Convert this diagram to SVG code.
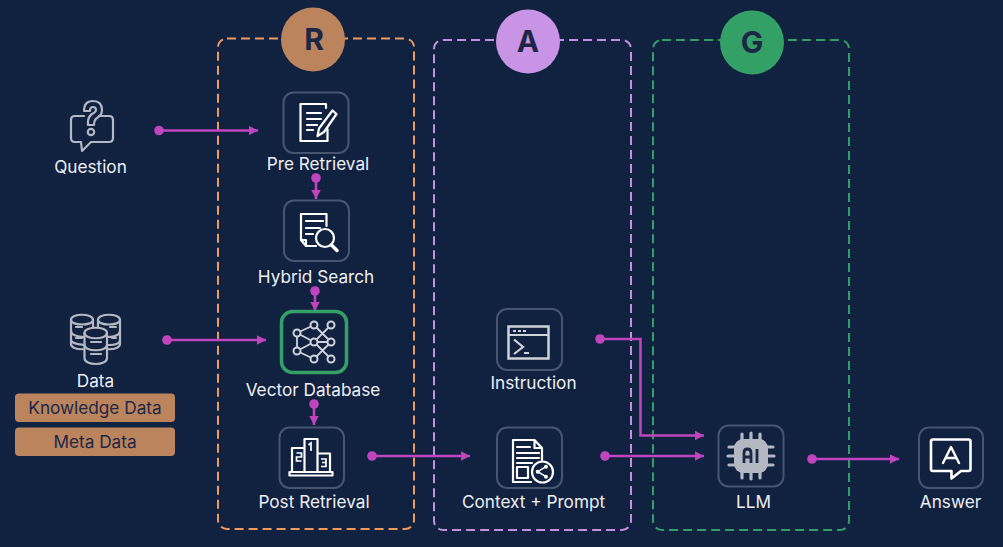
<svg xmlns="http://www.w3.org/2000/svg" width="1003" height="547" viewBox="0 0 1003 547">
<style>
text{font-family:"Inter","Noto Sans","Liberation Sans",sans-serif;font-size:17.200px;fill:#eef0f4;text-anchor:middle}
.box{fill:none;stroke:#465570;stroke-width:2}
.dash{fill:none;stroke-width:2;stroke-dasharray:9 5}
.pill{fill:#bc845c}
.pt{fill:#1c2748}
.letter{font-size:30px;font-weight:700;fill:#1c2748}
.ic{fill:none;stroke:#fff;stroke-width:2.200;stroke-linejoin:round;stroke-linecap:round}
.ig{fill:none;stroke:#b4b8c2;stroke-width:2.200;stroke-linejoin:round;stroke-linecap:round}
.ln{fill:none;stroke:#c044bd;stroke-width:2.600}
.dot{fill:#c044bd}
.bgf{fill:#112140}
</style>
<defs>
<marker id="arr" markerUnits="userSpaceOnUse" markerWidth="10" markerHeight="11" refX="9.500" refY="5.500" orient="auto"><path d="M0 0.500L9.500 5.500L0 10.500Z" fill="#c044bd"/></marker>
</defs>
<rect width="1003" height="547" fill="#112140"/>
<g id="frames">
<rect class="dash" x="218" y="38.500" width="196" height="490.500" rx="9" stroke="#f0995c"/>
<rect class="dash" x="434" y="40" width="197" height="490" rx="9" stroke="#c48fe0"/>
<rect class="dash" x="653" y="40" width="196" height="490" rx="9" stroke="#2fa066"/>
</g>
<g id="connectors">
<path class="ln" marker-end="url(#arr)" d="M159 130.500H258"/>
<path class="ln" marker-end="url(#arr)" d="M316 178V199"/>
<path class="ln" marker-end="url(#arr)" d="M315 291V311"/>
<path class="ln" marker-end="url(#arr)" d="M167 340H266"/>
<path class="ln" marker-end="url(#arr)" d="M314 404V425"/>
<path class="ln" marker-end="url(#arr)" d="M372 456H470"/>
<path class="ln" marker-end="url(#arr)" d="M600 339H640.500V435.500H704"/>
<path class="ln" marker-end="url(#arr)" d="M605 456H704"/>
<path class="ln" marker-end="url(#arr)" d="M812 459H899"/>
<circle class="dot" cx="159" cy="130.500" r="4.800"/>
<circle class="dot" cx="316" cy="178" r="4.800"/>
<circle class="dot" cx="315" cy="291" r="4.800"/>
<circle class="dot" cx="167" cy="340" r="4.800"/>
<circle class="dot" cx="314" cy="404" r="4.800"/>
<circle class="dot" cx="372" cy="456" r="4.800"/>
<circle class="dot" cx="600" cy="339" r="4.800"/>
<circle class="dot" cx="605" cy="456" r="4.800"/>
<circle class="dot" cx="812" cy="459" r="4.800"/>
</g>
<g id="badge-r"><circle cx="313" cy="39.500" r="32" fill="#bc845c"/><text class="letter" x="314" y="50">R</text></g>
<g id="badge-a"><circle cx="528" cy="41.500" r="32" fill="#c993e6"/><text class="letter" x="528" y="52">A</text></g>
<g id="badge-g"><circle cx="752" cy="42.500" r="32" fill="#33a065"/><text class="letter" x="752" y="53">G</text></g>
<g id="question">
<path class="ig" d="M84 116H75Q71 116 71 120V138Q71 142 75 142H81L82 151L91 142H109Q113 142 113 138V120Q113 116 109 116H99"/>
<path class="ig" d="M84 111Q84 101 93 101Q102 101 102 110Q102 115 97 118Q94 120 94 125H88V122Q88 117 92 114Q96 112 96 110Q96 107 93 107Q90 107 90 111Z"/>
<circle class="ig" cx="91" cy="132" r="3.200"/>
<text x="90.500" y="173">Question</text>
</g>
<g id="pre-retrieval">
<rect class="box" x="283.500" y="92.500" width="65" height="60.500" rx="10"/>
<path class="ic" d="M326 108V104H300.500V141H327.500V129"/>
<path class="ic" d="M307 113H321M307 119H321M307 125H317M307 130H313"/>
<path class="ic" d="M332.500 110.500L336.500 114L324 132L317.500 136L319 128.500Z"/>
<text x="318" y="170">Pre Retrieval</text>
</g>
<g id="hybrid-search">
<rect class="box" x="284" y="200.500" width="65" height="60.500" rx="10"/>
<path class="ic" d="M301 240V214H326.500V226M316 246H306L301 240H306V246"/>
<path class="ic" d="M306 221H323M306 228H320M306 234H313"/>
<circle class="ic" cx="325" cy="238" r="9"/>
<path d="M331.500 245L337 250.500" fill="none" stroke="#fff" stroke-width="3.500" stroke-linecap="round"/>
<text x="316" y="283">Hybrid Search</text>
</g>
<g id="data">
<path class="ig" d="M71 320C71 313 93 313 93 320V344C93 351 71 351 71 344Z"/>
<path class="ig" d="M71 320C71 326 93 326 93 320M71 331C71 337 85 337 85 337M71 340C71 344 85 345 85 345M76 327H82M76 338H82"/>
<path class="ig" d="M98 320C98 313 120 313 120 320V344C120 351 98 351 98 344Z"/>
<path class="ig" d="M98 320C98 326 120 326 120 320M108 337C114 337 120 335 120 331M108 345C114 345 120 344 120 340M110 327H116M112 338H116"/>
<path class="ig bgf" d="M84.500 333C84.500 326 107 326 107 333V358C107 366 84.500 366 84.500 358Z"/>
<path class="ig" d="M84.500 333C84.500 340 107 340 107 333M84.500 345C84.500 352 107 352 107 345M91 342H101M91 354H101"/>
<text x="95.500" y="387">Data</text>
</g>
<g id="knowledge-data"><rect class="pill" x="15" y="393.500" width="160" height="28.500" rx="4"/><text class="pt" x="95" y="414">Knowledge Data</text></g>
<g id="meta-data"><rect class="pill" x="15" y="427.500" width="160" height="28.500" rx="4"/><text class="pt" x="95" y="448">Meta Data</text></g>
<g id="vector-database">
<rect x="281.500" y="311.500" width="65" height="61" rx="11" fill="none" stroke="#33a065" stroke-width="3.500"/>
<path fill="none" stroke="#cfd2d8" stroke-width="1.800" d="M297 333L314 325M297 333L314 342M297 351L314 342M297 351L314 359M314 325L331 342M314 342L331 325M314 342L331 359M314 359L331 342M314 342H331M297 333V351"/>
<g class="bgf" stroke="#cfd2d8" stroke-width="2">
<circle cx="297" cy="333" r="3.500"/><circle cx="297" cy="351" r="3.500"/><circle cx="314" cy="325" r="3.500"/><circle cx="314" cy="342" r="3.500"/><circle cx="314" cy="359" r="3.500"/><circle cx="331" cy="325" r="3.500"/><circle cx="331" cy="342" r="3.500"/><circle cx="331" cy="359" r="3.500"/>
</g>
<text x="313" y="396">Vector Database</text>
</g>
<g id="post-retrieval">
<rect class="box" x="279.500" y="427.500" width="64.500" height="60.500" rx="10"/>
<path class="ic" d="M292 472V448H304.500M304.500 472V439H317.500V472M317.500 453.500H330V472"/>
<rect class="ic" x="289.500" y="472" width="43" height="3.500"/>
<path fill="none" stroke="#fff" stroke-width="1.700" d="M296.500 453H301.500V457H296.500V461H301.500M308.500 445L311 443V451M321 459H326V462.500H322M326 462.500V466.500H321"/>
<text x="314" y="508">Post Retrieval</text>
</g>
<g id="instruction">
<rect class="box" x="497" y="309" width="65" height="61" rx="10"/>
<rect x="508.500" y="326.500" width="40" height="32" fill="none" stroke="#cfd2d8" stroke-width="2.500"/>
<path fill="none" stroke="#cfd2d8" stroke-width="2" d="M508.500 335H548.500M513 331H516M518 331H521M523 331H526"/>
<path fill="none" stroke="#cfd2d8" stroke-width="2.200" d="M514 339.500L523 347L514 354M524 353H529"/>
<text x="533.500" y="389">Instruction</text>
</g>
<g id="context-prompt">
<rect class="box" x="497" y="427.500" width="65" height="60.500" rx="10"/>
<path class="ic" d="M513 482V440H534.500L542 448V460M534.500 440V448H542M513 482H531"/>
<path class="ic" d="M517 447H530M517 453H539M517 458H539M517 463H532"/>
<rect class="ic" x="517" y="467" width="11" height="11"/>
<circle class="ic" cx="542.500" cy="472" r="10.500"/>
<path fill="none" stroke="#fff" stroke-width="1.500" d="M546 466.700L537.700 471.700L546 476.700"/>
<g fill="#fff"><circle cx="546" cy="466.700" r="2"/><circle cx="537.700" cy="471.700" r="2"/><circle cx="546" cy="476.700" r="2"/></g>
<text x="533.500" y="508">Context + Prompt</text>
</g>
<g id="llm">
<rect class="box" x="718.500" y="425.500" width="65" height="61" rx="10"/>
<path stroke="#b4b8c2" stroke-width="3.200" stroke-linecap="round" fill="none" d="M742 434V478M751 433V479M760 434V478M729 447H773M728 456H774M729 465H773"/>
<rect x="734" y="439" width="34" height="34" rx="9" fill="#b4b8c2"/>
<path fill="none" stroke="#1c2748" stroke-width="2.800" d="M744 463V453Q744 449 747.500 449Q751 449 751 453V463M744 457H751M757 449V463"/>
<text x="753.500" y="508">LLM</text>
</g>
<g id="answer">
<rect class="box" x="919" y="427.500" width="64" height="60.500" rx="10"/>
<path class="ic" style="stroke-width:2.600" d="M933 439.500H968.500Q970.500 439.500 970.500 441.500V469Q970.500 471 968.500 471H961L951.500 478.500V471H933Q931 471 931 469V441.500Q931 439.500 933 439.500Z"/>
<path class="ic" style="stroke-width:2.400" d="M943 463L951 447L959 463M945.500 458H956.500"/>
<text x="950.500" y="508">Answer</text>
</g>
</svg>
